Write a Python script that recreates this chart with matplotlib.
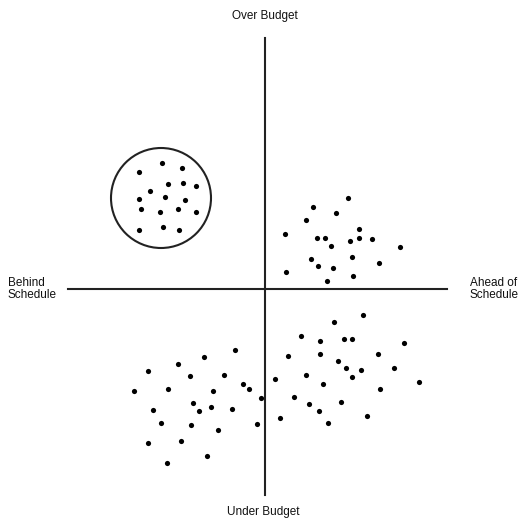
import matplotlib.pyplot as plt
from matplotlib.patches import Circle

# project positions relative to the origin (schedule vs budget)
circle_x = [-103, -126, -83, -97, -82, -69, -115, -126, -100, -80, -124, -105, -87, -69, -126, -102, -86]
circle_y = [126, 117, 121, 105, 106, 103, 98, 90, 92, 89, 80, 77, 80, 77, 59, 62, 59]

upper_right_x = [83, 48, 71, 41, 20, 94, 52, 60, 94, 85, 107, 66, 135, 46, 87, 114, 53, 68, 21, 88, 62]
upper_right_y = [91, 82, 76, 69, 55, 60, 51, 51, 51, 48, 50, 43, 42, 30, 32, 26, 23, 21, 17, 13, 8]

lower_left_x = [-30, -61, -87, -117, -75, -41, -22, -16, -131, -97, -52, -4, -72, -66, -54, -33, -112,
                -104, -74, -47, -8, -117, -84, -58, -98]
lower_left_y = [-61, -68, -75, -82, -87, -86, -95, -100, -102, -100, -102, -109, -114, -122, -118, -120, -121,
                -134, -136, -141, -135, -154, -152, -167, -174]

lower_right_x = [98, 69, 36, 55, 79, 87, 139, 23, 55, 113, 73, 81, 96, 129, 10, 41, 87, 58, 154, 115,
                 29, 44, 76, 54, 15, 102, 63]
lower_right_y = [-26, -33, -47, -52, -50, -50, -54, -67, -65, -65, -72, -79, -81, -79, -90, -86, -88, -95,
                 -93, -100, -108, -115, -113, -122, -129, -127, -134]

circle_center = (-104, 91)
circle_radius = 50

plt.rcParams['font.family'] = ['Liberation Sans', 'DejaVu Sans']

fig = plt.figure(figsize=(5.21, 5.20), dpi=100)
ax = fig.add_axes([0, 0, 1, 1])
ax.set_xlim(-265, 256)
ax.set_ylim(-231, 289)
ax.axis('off')

ink = '#222222'
ax.plot([0, 0], [-206, 251], color=ink, linewidth=1.5)
ax.plot([-197, 182], [0, 0], color=ink, linewidth=1.5)

for xs, ys in [(circle_x, circle_y), (upper_right_x, upper_right_y),
               (lower_left_x, lower_left_y), (lower_right_x, lower_right_y)]:
    ax.scatter(xs, ys, s=14, color='black', linewidths=0)

ax.add_patch(Circle(circle_center, circle_radius, fill=False, edgecolor=ink, linewidth=1.5))

fs = 8.5
ax.text(0, 273, "Over Budget", ha='center', va='center', fontsize=fs, color='#111111')
ax.text(-2, -223, "Under Budget", ha='center', va='center', fontsize=fs, color='#111111')
ax.text(-257, 0, "Behind\nSchedule", ha='left', va='center', fontsize=fs, color='#111111',
        multialignment='left', linespacing=1.0)
ax.text(253, 0, "Ahead of\nSchedule", ha='right', va='center', fontsize=fs, color='#111111',
        multialignment='center', linespacing=1.0)

fig.savefig("out.png", dpi=100)
